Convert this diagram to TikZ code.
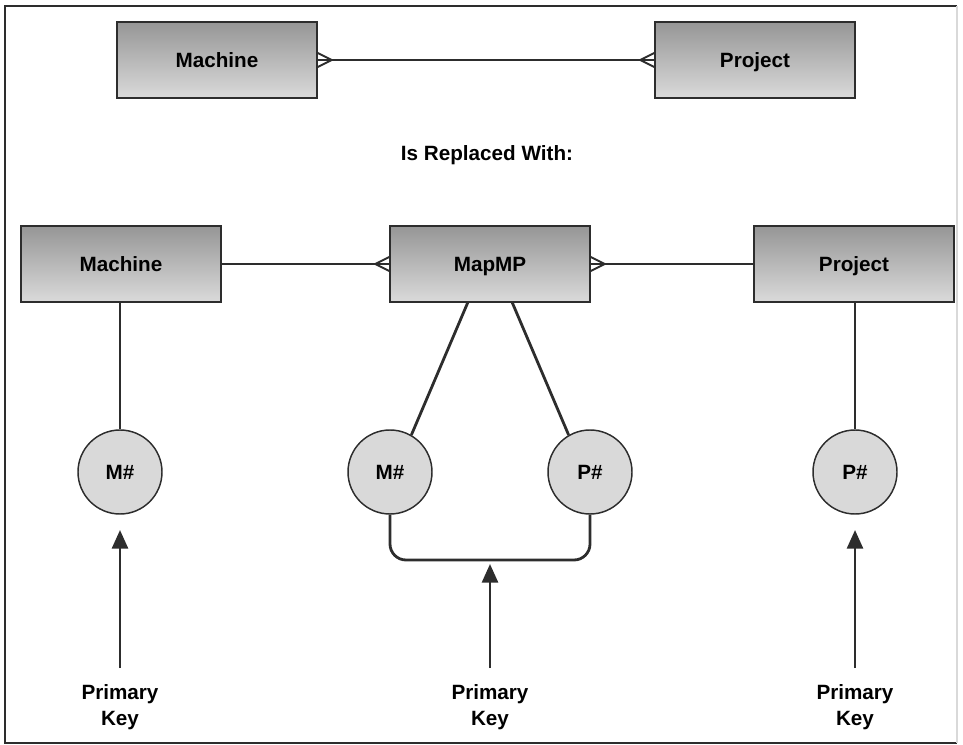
\documentclass[tikz,border=0pt]{standalone}
\usepackage{fontspec}
\setmainfont{Liberation Sans}
\usetikzlibrary{arrows.meta,calc}
\definecolor{boxtop}{RGB}{150,150,150}
\definecolor{boxbot}{RGB}{218,218,218}
\definecolor{circfill}{RGB}{217,217,217}
\definecolor{ln}{RGB}{45,45,45}
\begin{document}
\begin{tikzpicture}[x=0.75pt,y=-0.75pt,
  ent/.style={draw=ln,line width=1.1pt,top color=boxtop,bottom color=boxbot,minimum width=150pt,minimum height=57pt,inner sep=0pt,text height=11pt,text depth=0pt,font=\fontsize{15.5}{18}\selectfont\bfseries},
  attr/.style={circle,draw=ln,line width=1.1pt,fill=circfill,minimum size=63pt,inner sep=0pt,text height=11pt,text depth=0pt,font=\fontsize{15.5}{18}\selectfont\bfseries},
  lbl/.style={font=\fontsize{15.5}{19}\selectfont\bfseries,align=center,inner sep=0pt},
  conn/.style={draw=ln,line width=2.1pt},
  crow/.style={draw=ln,line width=1.4pt},
  pk/.style={draw=ln,line width=2.1pt,-{Triangle[length=14pt,width=12pt]}}]
\useasboundingbox (0,0) rectangle (963,745);
\draw[ln,line width=1.5pt] (957,6) -- (5,6) -- (5,743) -- (957,743);
\draw[gray!30,line width=0.8pt] (957,6) -- (957,743);
% top row
\node[ent] (m1) at (217,60) {Machine};
\node[ent] (p1) at (755,60) {Project};
\draw[conn] (m1.east) -- (p1.west);
\coordinate (m1c) at ($(m1.east)+(14,0)$);
\coordinate (p1c) at ($(p1.west)+(-14,0)$);
\draw[crow] ($(m1.east)+(0,-7)$) -- (m1c) -- ($(m1.east)+(0,7)$);
\draw[crow] ($(p1.west)+(0,-7)$) -- (p1c) -- ($(p1.west)+(0,7)$);
\node[lbl] (rep) at (487,155) {Is Replaced With:};
% middle row
\node[ent] (m2) at (121,264) {Machine};
\node[ent] (mp) at (490,264) {MapMP};
\node[ent] (p2) at (854,264) {Project};
\draw[conn] (m2.east) -- (mp.west);
\draw[conn] (mp.east) -- (p2.west);
\coordinate (mpl) at ($(mp.west)+(-14,0)$);
\coordinate (mpr) at ($(mp.east)+(14,0)$);
\draw[crow] ($(mp.west)+(0,-7)$) -- (mpl) -- ($(mp.west)+(0,7)$);
\draw[crow] ($(mp.east)+(0,-7)$) -- (mpr) -- ($(mp.east)+(0,7)$);
% attributes
\node[attr] (a1) at (120,472) {M\#};
\node[attr] (a2) at (390,472) {M\#};
\node[attr] (a3) at (590,472) {P\#};
\node[attr] (a4) at (855,472) {P\#};
\draw[conn] (m2.south -| a1) -- (a1.north);
\draw[conn] (p2.south -| a4) -- (a4.north);
\coordinate (mpb1) at (468,302);
\coordinate (mpb2) at (512,302);
\draw[conn] (mpb1) -- (a2.60);
\draw[conn] (mpb2) -- (a3.120);
\draw[conn,rounded corners=12pt] (a2.south) -- (390,560) -- (590,560) -- (a3.south);
% primary keys
\node[lbl] (k1) at (120,707) {Primary\\Key};
\node[lbl] (k2) at (490,707) {Primary\\Key};
\node[lbl] (k3) at (855,707) {Primary\\Key};
\coordinate (t1) at (120,530);
\coordinate (t2) at (490,564);
\coordinate (t3) at (855,530);
\draw[pk] (120,668) -- (t1);
\draw[pk] (490,668) -- (t2);
\draw[pk] (855,668) -- (t3);
\end{tikzpicture}
\end{document}
